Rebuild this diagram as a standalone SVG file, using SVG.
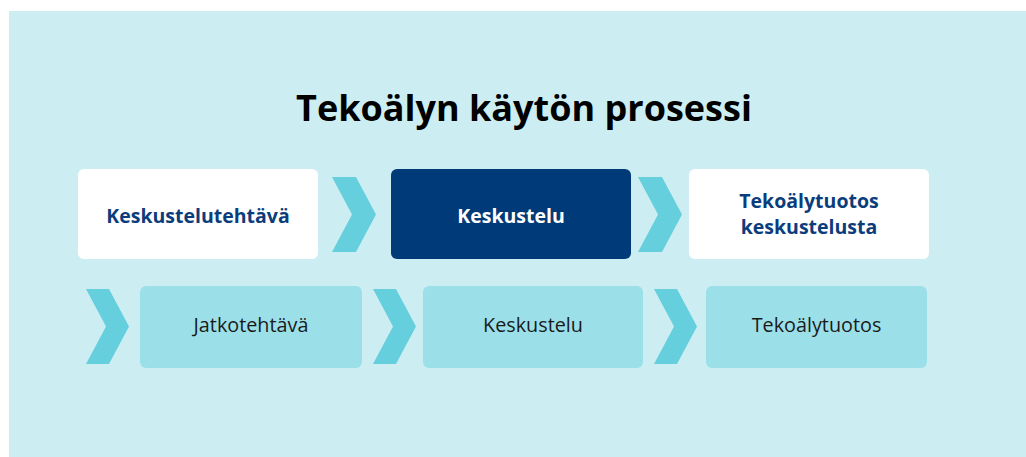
<svg xmlns="http://www.w3.org/2000/svg" width="1026" height="457" viewBox="0 0 1026 457">
  <style>
    .bg { fill: #ffffff; }
    .panel { fill: #cceef3; }
    .chev { fill: #66cfdd; }
    .white { fill: #ffffff; }
    .dark { fill: #003a78; }
    .light { fill: #9be0e9; }
    text { font-family: "Open Sans", "Noto Sans", "Liberation Sans", sans-serif; text-anchor: middle; }
    .title { font-size: 36px; font-weight: 700; fill: #000000; }
    .lb { font-size: 19.5px; font-weight: 700; fill: #0b3d7c; }
    .lw { font-size: 19.5px; font-weight: 700; fill: #ffffff; }
    .lr { font-size: 19.8px; font-weight: 400; fill: #1a1a1a; }
  </style>
  <rect class="bg" x="0" y="0" width="1026" height="457"/>
  <rect class="panel" x="9" y="11" width="1017" height="446"/>
  <text class="title" x="524" y="121">Tekoälyn käytön prosessi</text>

  <g id="connectors">
    <polygon class="chev" points="332,177 356,177 376,214.5 356,252 332,252 352,214.5"/>
    <polygon class="chev" points="638,177 662,177 682,214.5 662,252 638,252 658,214.5"/>
    <polygon class="chev" points="86,289 109,289 129,326.5 109,364 86,364 106,326.5"/>
    <polygon class="chev" points="373,289 396,289 416,326.5 396,364 373,364 393,326.5"/>
    <polygon class="chev" points="654,289 677,289 697,326.5 677,364 654,364 674,326.5"/>
  </g>

  <g id="node-keskustelutehtava">
    <rect class="white" x="78" y="169" width="240" height="90" rx="6"/>
    <text class="lb" x="198" y="223">Keskustelutehtävä</text>
  </g>
  <g id="node-keskustelu-top">
    <rect class="dark" x="391" y="169" width="240" height="90" rx="6"/>
    <text class="lw" x="511" y="223">Keskustelu</text>
  </g>
  <g id="node-tekoalytuotos-keskustelusta">
    <rect class="white" x="689" y="169" width="240" height="90" rx="6"/>
    <text class="lb" x="809" y="208">Tekoälytuotos</text>
    <text class="lb" x="809" y="234">keskustelusta</text>
  </g>
  <g id="node-jatkotehtava">
    <rect class="light" x="140" y="286" width="222" height="82" rx="6"/>
    <text class="lr" x="251" y="332">Jatkotehtävä</text>
  </g>
  <g id="node-keskustelu-bottom">
    <rect class="light" x="423" y="286" width="220" height="82" rx="6"/>
    <text class="lr" x="533" y="332">Keskustelu</text>
  </g>
  <g id="node-tekoalytuotos">
    <rect class="light" x="706" y="286" width="221" height="82" rx="6"/>
    <text class="lr" x="816.5" y="332">Tekoälytuotos</text>
  </g>
</svg>
